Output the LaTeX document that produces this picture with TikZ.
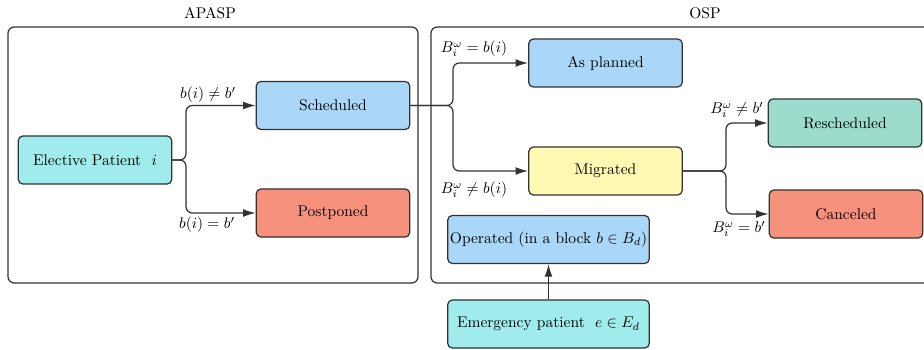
\documentclass[tikz,border=0pt]{standalone}
\usetikzlibrary{arrows.meta}
\definecolor{patientcol}{RGB}{160,236,236}
\definecolor{bluecol}{RGB}{170,215,248}
\definecolor{redcol}{RGB}{246,145,125}
\definecolor{yellowcol}{RGB}{255,249,180}
\definecolor{greencol}{RGB}{155,220,205}
\definecolor{linecol}{RGB}{50,50,50}
\begin{document}
\begin{tikzpicture}[x=0.645pt, y=-0.645pt, thick,
state node/.style={rectangle,rounded corners=3pt,draw=linecol,minimum width=99pt,minimum height=31pt,inner sep=0pt},
wide node/.style={state node,minimum width=130pt},
frame/.style={draw=linecol,rounded corners=4pt},
arrow/.style={draw=linecol,rounded corners=4pt,-{Latex[length=8pt,width=5pt]}}]
\useasboundingbox (0,0) rectangle (924,349);
%frames
\draw[frame] (8,27) rectangle (418,283);
\draw[frame] (431,27) rectangle (979,283);
\node (apasp) at (210,13) {APASP};
\node (osp) at (705,13) {OSP};
\begin{scope}
\node[state node,fill=patientcol] (elective) at (95,160) {Elective Patient~ $i$};
\node[state node,fill=bluecol] (scheduled) at (333,105.5) {Scheduled};
\node[state node,fill=redcol] (postponed) at (333,213) {Postponed};
\node[state node,fill=bluecol] (planned) at (605.5,63) {As planned};
\node[state node,fill=yellowcol] (migrated) at (605.5,171) {Migrated};
\node[state node,fill=greencol] (rescheduled) at (845,123) {Rescheduled};
\node[state node,fill=redcol] (canceled) at (846,214) {Canceled};
\node[wide node,fill=bluecol] (operated) at (548.5,239.5) {Operated (in a block $b\in B_d$)};
\node[wide node,fill=patientcol] (emergency) at (548.5,324) {Emergency patient~ $e\in E_d$};
%\node[state node] (v) at (,) {};
\end{scope}
\begin{scope}
\draw[arrow] (elective.east) -- (186,160) |- (scheduled.west);
\draw[arrow] (elective.east) -- (186,160) |- (postponed.west);
\draw[arrow] (scheduled.east) -- (453,105.5) |- (planned.west);
\draw[arrow] (scheduled.east) -- (453,105.5) |- (migrated.west);
\draw[arrow] (migrated.east) -- (726,171) |- (rescheduled.west);
\draw[arrow] (migrated.east) -- (726,171) |- (canceled.west);
\draw[arrow] (emergency) -- (operated);
%\draw[arrow] (v) -- (v);
\end{scope}
\begin{scope}
\node (neq1) at (208,95) {$b(i)\neq b'$};
\node (eq1) at (207,225) {$b(i)=b'$};
\node (eq2) at (474,49) {$B_i^\omega=b(i)$};
\node (neq2) at (474,190) {$B_i^\omega\neq b(i)$};
\node (neq3) at (737,110) {$B_i^\omega\neq b'$};
\node (eq3) at (739,229) {$B_i^\omega=b'$};
\end{scope}
\end{tikzpicture}
\end{document}
